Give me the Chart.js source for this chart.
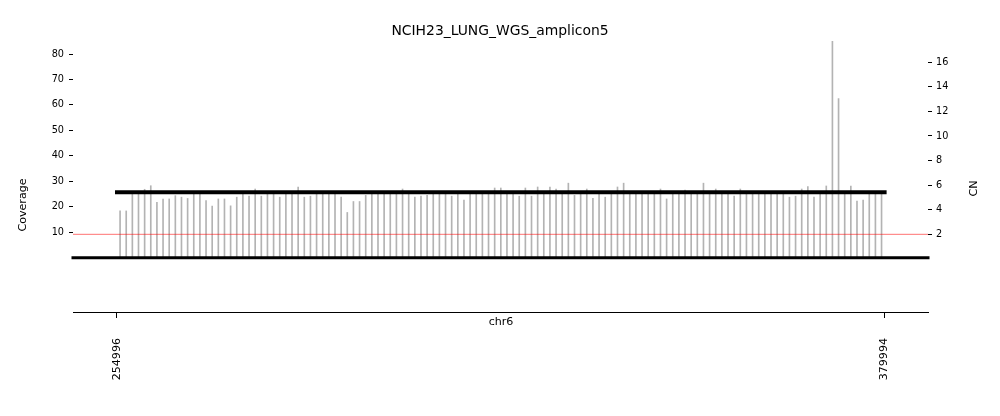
<!DOCTYPE html>
<html>
<head>
<meta charset="utf-8">
<script src="https://cdn.jsdelivr.net/npm/chart.js@4/dist/chart.umd.min.js"></script>
<style>
html,body{margin:0;padding:0;background:#fff;}
#wrap{width:1000px;height:416px;position:relative;}
</style>
</head>
<body>
<div id="wrap"><canvas id="c" width="1000" height="416"></canvas></div>
<script>
// ---------- data ----------
const chartTitle = 'NCIH23_LUNG_WGS_amplicon5';
const chromosome = 'chr6';
const yLabelLeft = 'Coverage';
const yLabelRight = 'CN';

const binCenters = [
  255496,256496,257496,258496,259496,260496,261496,262496,263496,264496,
  265496,266496,267496,268496,269496,270496,271496,272496,273496,274496,
  275496,276496,277496,278496,279496,280496,281496,282496,283496,284496,
  285496,286496,287496,288496,289496,290496,291496,292496,293496,294496,
  295496,296496,297496,298496,299496,300496,301496,302496,303496,304496,
  305496,306496,307496,308496,309496,310496,311496,312496,313496,314496,
  315496,316496,317496,318496,319496,320496,321496,322496,323496,324496,
  325496,326496,327496,328496,329496,330496,331496,332496,333496,334496,
  335496,336496,337496,338496,339496,340496,341496,342496,343496,344496,
  345496,346496,347496,348496,349496,350496,351496,352496,353496,354496,
  355496,356496,357496,358496,359496,360496,361496,362496,363496,364496,
  365496,366496,367496,368496,369496,370496,371496,372496,373496,374496,
  375496,376496,377496,378496,379496
];

const coverage = [
  18.4,18.4,25.5,25.5,26.9,28.3,21.8,23.1,23.1,24.4,
  23.8,23.3,25.5,25.5,22.5,20.3,23.1,23.1,20.4,23.8,
  25.5,24.2,27.0,24.2,25.5,25.5,23.8,25.5,25.5,27.8,
  23.8,24.2,25.5,25.5,25.5,25.5,23.8,17.8,22.1,22.1,
  24.5,25.5,25.5,25.5,25.5,25.5,27.0,25.5,23.8,24.2,
  24.5,25.5,25.5,25.5,24.2,25.5,22.7,25.5,25.5,25.5,
  25.5,27.4,27.4,25.5,25.5,24.2,27.4,24.2,27.8,25.5,
  27.8,27.0,25.5,29.3,24.5,25.5,27.0,23.3,25.5,23.8,
  25.5,27.8,29.3,25.5,25.5,25.5,25.5,25.5,27.0,23.1,
  25.5,25.5,26.6,25.5,25.5,29.3,25.5,27.0,25.5,25.5,
  24.2,27.0,25.5,25.5,25.5,25.5,25.5,25.5,25.5,23.8,
  24.2,27.0,28.0,23.8,25.5,28.2,85.0,62.5,25.5,28.2,
  22.3,22.7,25.5,25.5,25.5
];

const segmentStart = 254996;
const segmentEnd = 379994;
const segmentCN = 5.42;
const diploidCN = 2;

const xTickValues = [254996, 379994];
const coverageTicks = [10, 20, 30, 40, 50, 60, 70, 80];
const cnTicks = [2, 4, 6, 8, 10, 12, 14, 16];

const xMin = 247831, xMax = 387061;
const covMin = -21.28, covMax = 85.12;
const cnMin = -4.32, cnMax = 17.73;

// ---------- chart ----------
const FONT = 'DejaVu Sans';

const axisTitlePlugin = {
  id: 'axisTitles',
  afterDraw(chart) {
    const ctx = chart.ctx;
    ctx.save();
    ctx.fillStyle = '#000';
    ctx.font = '11.1px "' + FONT + '"';
    ctx.textAlign = 'center';
    ctx.textBaseline = 'middle';
    ctx.save();
    ctx.translate(23, 205);
    ctx.rotate(-Math.PI / 2);
    ctx.fillText(yLabelLeft, 0, 0);
    ctx.restore();
    ctx.save();
    ctx.translate(974, 188.5);
    ctx.rotate(-Math.PI / 2);
    ctx.fillText(yLabelRight, 0, 0);
    ctx.restore();
    ctx.fillText(chromosome, 501, 322.5);
    ctx.restore();
  }
};

new Chart(document.getElementById('c'), {
  type: 'bar',
  data: {
    datasets: [
      {
        type: 'bar',
        data: binCenters.map((x, i) => ({ x: x, y: coverage[i] })),
        xAxisID: 'x', yAxisID: 'y',
        backgroundColor: '#b3b3b3',
        barThickness: 1,
        order: 4
      },
      {
        type: 'line',
        data: [{ x: xMin, y: diploidCN }, { x: xMax, y: diploidCN }],
        xAxisID: 'x', yAxisID: 'y1',
        borderColor: 'rgba(255,0,0,0.55)',
        borderWidth: 1,
        pointRadius: 0,
        order: 3
      },
      {
        type: 'line',
        data: [{ x: segmentStart, y: segmentCN }, { x: segmentEnd, y: segmentCN }],
        xAxisID: 'x', yAxisID: 'y1',
        borderColor: '#000',
        borderWidth: 4,
        borderCapStyle: 'square',
        pointRadius: 0,
        clip: false,
        order: 2
      },
      {
        type: 'line',
        data: [{ x: xMin, y: 0 }, { x: xMax, y: 0 }],
        xAxisID: 'x', yAxisID: 'y',
        borderColor: '#000',
        borderWidth: 3,
        borderCapStyle: 'square',
        pointRadius: 0,
        clip: false,
        order: 1
      }
    ]
  },
  options: {
    responsive: false,
    animation: false,
    events: [],
    layout: { padding: 0 },
    plugins: {
      legend: { display: false },
      tooltip: { enabled: false },
      title: {
        display: true,
        text: chartTitle,
        color: '#000',
        font: { family: FONT, size: 13.9, weight: 'normal' },
        padding: { top: 22.7, bottom: 1.6 }
      }
    },
    scales: {
      x: {
        type: 'linear',
        position: 'bottom',
        offset: false,
        min: xMin, max: xMax,
        afterBuildTicks: s => { s.ticks = xTickValues.map(v => ({ value: v })); },
        afterFit: s => { s.height = 104; },
        ticks: {
          autoSkip: false,
          minRotation: 90, maxRotation: 90,
          padding: 20,
          color: '#000',
          font: { family: FONT, size: 11.1 },
          callback: v => String(v)
        },
        grid: { offset: false, drawOnChartArea: false, drawTicks: true, tickLength: 6, tickColor: '#000', tickWidth: 1 },
        border: { display: true, color: '#000', width: 1 }
      },
      y: {
        type: 'linear',
        position: 'left',
        min: covMin, max: covMax,
        afterBuildTicks: s => { s.ticks = coverageTicks.map(v => ({ value: v })); },
        afterFit: s => { s.width = 73; },
        ticks: {
          padding: 5,
          color: '#000',
          font: { family: FONT, size: 9.7 },
          callback: v => String(v)
        },
        grid: { drawOnChartArea: false, drawTicks: true, tickLength: 4, tickColor: '#000', tickWidth: 1 },
        border: { display: false }
      },
      y1: {
        type: 'linear',
        position: 'right',
        min: cnMin, max: cnMax,
        afterBuildTicks: s => { s.ticks = cnTicks.map(v => ({ value: v })); },
        afterFit: s => { s.width = 72; },
        ticks: {
          padding: 4,
          color: '#000',
          font: { family: FONT, size: 9.7 },
          callback: v => String(v)
        },
        grid: { drawOnChartArea: false, drawTicks: true, tickLength: 4, tickColor: '#000', tickWidth: 1 },
        border: { display: false }
      }
    }
  },
  plugins: [axisTitlePlugin]
});
</script>
</body>
</html>
